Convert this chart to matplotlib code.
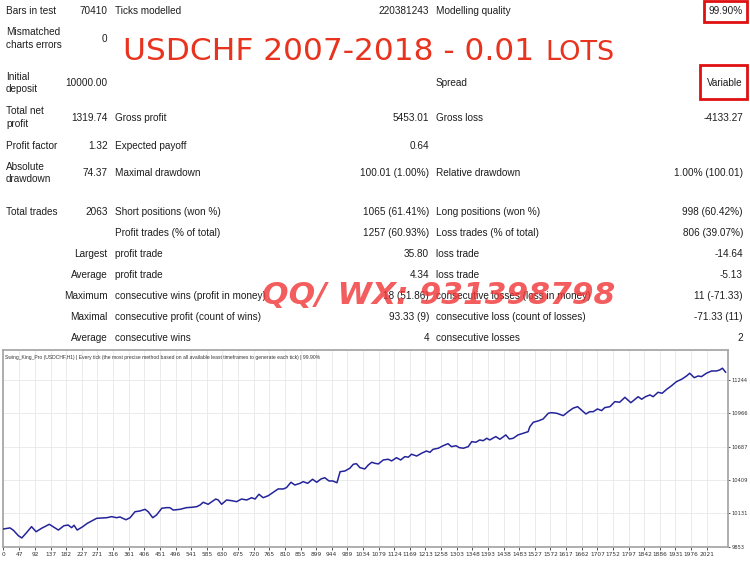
import matplotlib; matplotlib.use('Agg')
import matplotlib.pyplot as plt
from matplotlib.patches import Rectangle

W, H = 750, 563

# ---- report table -----------------------------------------------------------
COL1_LABELS = ['Bars in test', 'Mismatched\ncharts errors', 'Initial\ndeposit',
               'Total net\nprofit', 'Profit factor', 'Absolute\ndrawdown',
               'Total trades', '', '', '', '', '', '']
COL1_VALUES = ['70410', '0', '10000.00', '1319.74', '1.32', '74.37', '2063',
               '', 'Largest', 'Average', 'Maximum', 'Maximal', 'Average']
COL2_LABELS = ['Ticks modelled', '', '', 'Gross profit', 'Expected payoff',
               'Maximal drawdown', 'Short positions (won %)',
               'Profit trades (% of total)', 'profit trade', 'profit trade',
               'consecutive wins (profit in money)',
               'consecutive profit (count of wins)', 'consecutive wins']
COL2_VALUES = ['220381243', '', '', '5453.01', '0.64', '100.01 (1.00%)',
               '1065 (61.41%)', '1257 (60.93%)', '35.80', '4.34',
               '18 (51.86)', '93.33 (9)', '4']
COL3_LABELS = ['Modelling quality', '', 'Spread', 'Gross loss', '',
               'Relative drawdown', 'Long positions (won %)',
               'Loss trades (% of total)', 'loss trade', 'loss trade',
               'consecutive losses (loss in money)',
               'consecutive loss (count of losses)', 'consecutive losses']
COL3_VALUES = ['99.90%', '', 'Variable', '-4133.27', '', '1.00% (100.01)',
               '998 (60.42%)', '806 (39.07%)', '-14.64', '-5.13',
               '11 (-71.33)', '-71.33 (11)', '2']
ROW_Y = [10.7, 38.5, 82.7, 117.7, 145.7, 173.3, 211.7, 233.3, 254.3, 275,
         296, 316.7, 338.3]

TITLE = 'USDCHF 2007-2018 - 0.01'
TITLE_SUFFIX = 'LOTS'
WATERMARK = 'QQ/ WX: 931398798'
CHART_TITLE = ('Swing_King_Pro (USDCHF,H1) | Every tick (the most precise method '
               'based on all available least timeframes to generate each tick) | 99.90%')

# ---- equity curve (trade number, balance) ------------------------------------
TRADES = [0, 20, 30, 44, 54, 66, 82, 95, 111, 133, 144, 159, 175, 187, 197, 204,
          213, 229, 242, 255, 269, 298, 312, 326, 336, 353, 365, 379, 393, 408,
          417, 430, 441, 456, 470, 479, 489, 508, 527, 542, 556, 566, 575, 589,
          611, 618, 628, 642, 657, 671, 685, 700, 714, 724, 735, 747, 762, 776,
          790, 805, 814, 827, 838, 853, 862, 875, 889, 901, 913, 924, 936, 947,
          959, 968, 982, 996, 1006, 1015, 1025, 1039, 1049, 1059, 1068, 1078,
          1092, 1106, 1116, 1130, 1142, 1154, 1164, 1173, 1188, 1202, 1216, 1226,
          1235, 1250, 1264, 1278, 1288, 1301, 1310, 1322, 1336, 1346, 1358, 1369,
          1379, 1389, 1398, 1415, 1427, 1444, 1454, 1465, 1479, 1494, 1508, 1513,
          1523, 1537, 1551, 1566, 1575, 1590, 1609, 1623, 1637, 1650, 1661, 1674,
          1685, 1695, 1707, 1719, 1728, 1743, 1757, 1771, 1786, 1803, 1815, 1824,
          1834, 1845, 1858, 1867, 1881, 1893, 1906, 1920, 1934, 1949, 1963, 1972,
          1985, 1996, 2006, 2020, 2035, 2049, 2058, 2066, 2075]
BALANCE = [10000, 10010, 9990, 9945, 9926, 9965, 10020, 9978, 10007, 10040, 10020,
           9992, 10028, 10034, 10012, 10032, 9992, 10020, 10048, 10068, 10090,
           10095, 10104, 10095, 10101, 10078, 10095, 10145, 10151, 10165, 10145,
           10095, 10118, 10174, 10179, 10179, 10159, 10165, 10179, 10182, 10187,
           10201, 10224, 10207, 10251, 10243, 10207, 10243, 10237, 10229, 10251,
           10243, 10262, 10251, 10291, 10262, 10279, 10307, 10335, 10335, 10346,
           10391, 10368, 10382, 10396, 10382, 10416, 10391, 10418, 10429, 10402,
           10402, 10387, 10479, 10485, 10508, 10541, 10546, 10513, 10502, 10535,
           10558, 10549, 10544, 10577, 10583, 10569, 10596, 10577, 10605, 10600,
           10625, 10610, 10633, 10652, 10641, 10666, 10675, 10696, 10713, 10688,
           10696, 10680, 10675, 10688, 10730, 10725, 10744, 10738, 10758, 10744,
           10772, 10750, 10786, 10752, 10758, 10786, 10800, 10813, 10855, 10892,
           10903, 10919, 10967, 10972, 10967, 10947, 10980, 11009, 11022, 10994,
           10961, 10980, 10980, 11003, 10989, 11014, 11022, 11064, 11059, 11100,
           11055, 11084, 11105, 11084, 11105, 11120, 11105, 11142, 11134, 11167,
           11197, 11231, 11251, 11278, 11301, 11264, 11278, 11273, 11301, 11320,
           11320, 11328, 11343, 11310]
X_TICKS = [0, 47, 92, 137, 182, 227, 271, 316, 361, 406, 451, 496, 541, 585, 630,
           675, 720, 765, 810, 855, 899, 944, 989, 1034, 1079, 1124, 1169, 1213,
           1258, 1303, 1348, 1393, 1438, 1483, 1527, 1572, 1617, 1662, 1707, 1752,
           1797, 1842, 1886, 1931, 1976, 2021]
Y_TICKS = [9853, 10131, 10409, 10687, 10966, 11244]


def px(x, y):
    return x / W, 1 - y / H


fig = plt.figure(figsize=(7.5, 5.63), dpi=100)
fig.patch.set_facecolor('white')

TXT = dict(fontsize=7.2, color='#1e1e1e', family='Liberation Sans',
           va='center', linespacing=1.3)
for i, y in enumerate(ROW_Y):
    fig.text(*px(6, y), COL1_LABELS[i], ha='left', multialignment='left', **TXT)
    fig.text(*px(107.5, y), COL1_VALUES[i], ha='right', **TXT)
    fig.text(*px(115, y), COL2_LABELS[i], ha='left', **TXT)
    fig.text(*px(429, y), COL2_VALUES[i], ha='right', **TXT)
    fig.text(*px(436, y), COL3_LABELS[i], ha='left', **TXT)
    fig.text(*px(743, y), COL3_VALUES[i], ha='right', **TXT)

# red highlight boxes
for (x0, y0, x1, y1) in [(704, 1, 747, 22), (700, 65, 747, 99)]:
    fig.patches.append(Rectangle(px(x0, y1), (x1 - x0) / W, (y1 - y0) / H,
                                 transform=fig.transFigure, fill=False,
                                 edgecolor='#e01010', lw=2.0, zorder=5))

# big red title
fig.text(*px(123, 60), TITLE, ha='left', va='baseline', fontsize=22.5,
         color='#e8341f', family='DejaVu Sans')
fig.text(*px(545, 60), TITLE_SUFFIX, ha='left', va='baseline', fontsize=19.5,
         color='#e8341f', family='DejaVu Sans')

# ---- equity chart -------------------------------------------------------------
ax = fig.add_axes([3 / W, (H - 546.7) / H, 725 / W, (546.7 - 350) / H])
ax.plot(TRADES, BALANCE, color='#24249a', lw=1.1, zorder=3)
ax.set_xlim(0, 2082)
ax.set_ylim(9853, 11495)
ax.set_xticks(X_TICKS)
ax.set_yticks(Y_TICKS)
ax.set_xticklabels([str(t) for t in X_TICKS])
ax.set_yticklabels([str(t) for t in Y_TICKS])
ax.yaxis.tick_right()
ax.grid(True, color='#e8e8e8', lw=0.6)
ax.tick_params(axis='x', labelsize=4.2, colors='#333333', length=2,
               width=0.6, pad=2)
ax.tick_params(axis='y', labelsize=3.7, colors='#333333', length=1.5,
               width=0.6, pad=1)
for sp in ax.spines.values():
    sp.set_color('#a8a8a8')
    sp.set_linewidth(1.3)
ax.text(0.003, 0.96, CHART_TITLE, transform=ax.transAxes, ha='left', va='center',
        fontsize=3.6, color='#333333', family='Liberation Sans')

# watermark on top
fig.text(*px(262, 296), WATERMARK, ha='left', va='center', fontsize=22.5,
         fontweight='bold', style='italic', color='#f03535', alpha=0.8,
         family='DejaVu Sans', zorder=20)

fig.savefig('out.png', dpi=100, facecolor='white')
